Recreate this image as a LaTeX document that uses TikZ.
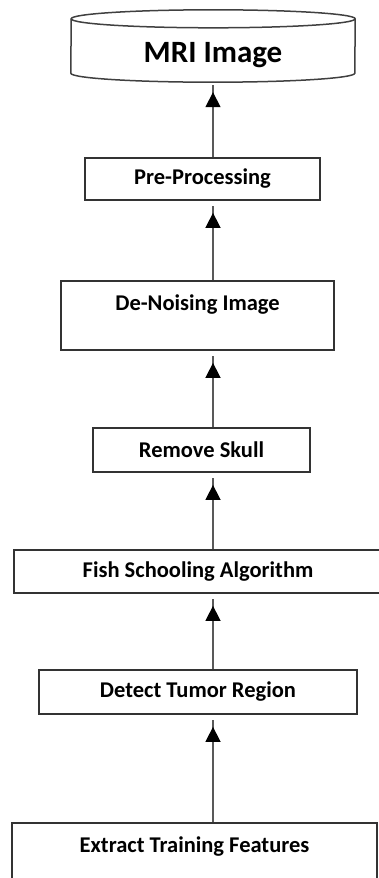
\documentclass[tikz,border=0pt]{standalone}
\usepackage{fontspec}
\setmainfont{Carlito}
\usetikzlibrary{arrows.meta,decorations.markings}
\tikzset{
	stage/.style={rectangle, draw=black!80, line width=1.8pt, inner sep=0pt, align=center, font=\bfseries\fontsize{22.5}{25}\selectfont},
	store/.style={rectangle, inner sep=0pt, font=\bfseries\fontsize{31}{35}\selectfont},
	storeline/.style={draw=black!75, line width=1.5pt},
	flow/.style={draw=black!65, line width=1.6pt, shorten >=5pt, postaction={decorate},
		decoration={markings, mark=at position -12pt with {\arrow[black]{Triangle[width=15pt,length=15pt]}}}}
}
\begin{document}
\begin{tikzpicture}[x=1pt, y=-1pt]
\useasboundingbox (0,0) rectangle (379,878);
\node[store, minimum width=284pt, minimum height=50pt] (MRI) at (213,55) {MRI Image};
\node[stage, minimum width=235pt, minimum height=42pt] (Pre) at (202.5,179) {Pre-Processing};
\node[stage, minimum width=273pt, minimum height=69pt] (Denoise) at (197.5,315.5) {De-Noising Image\\~};
\node[stage, minimum width=217pt, minimum height=44pt] (Skull) at (201.5,450) {Remove Skull};
\node[stage, minimum width=368pt, minimum height=43pt] (Fish) at (198,571.5) {Fish Schooling Algorithm};
\node[stage, minimum width=318pt, minimum height=44pt] (Detect) at (198,692) {Detect Tumor Region};
\node[stage, minimum width=365pt, minimum height=69pt] (Extract) at (194.5,857.5) {Extract Training Features\\~};

% cylinder round the image store
\draw[storeline] ([yshift=7pt]MRI.south west) arc[start angle=180, end angle=360, x radius=142pt, y radius=9pt]
	-- ([yshift=11pt]MRI.north east) arc[start angle=0, end angle=180, x radius=142pt, y radius=9pt] -- cycle;
\draw[storeline] ([yshift=11pt]MRI.north east) arc[start angle=0, end angle=-180, x radius=142pt, y radius=9pt];

\draw[flow] (Pre.north -| MRI) -- (MRI.south);
\draw[flow] (Denoise.north -| MRI) -- (Pre.south -| MRI);
\draw[flow] (Skull.north -| MRI) -- (Denoise.south -| MRI);
\draw[flow] (Fish.north -| MRI) -- (Skull.south -| MRI);
\draw[flow] (Detect.north -| MRI) -- (Fish.south -| MRI);
\draw[flow] (Extract.north -| MRI) -- (Detect.south -| MRI);
\end{tikzpicture}
\end{document}
